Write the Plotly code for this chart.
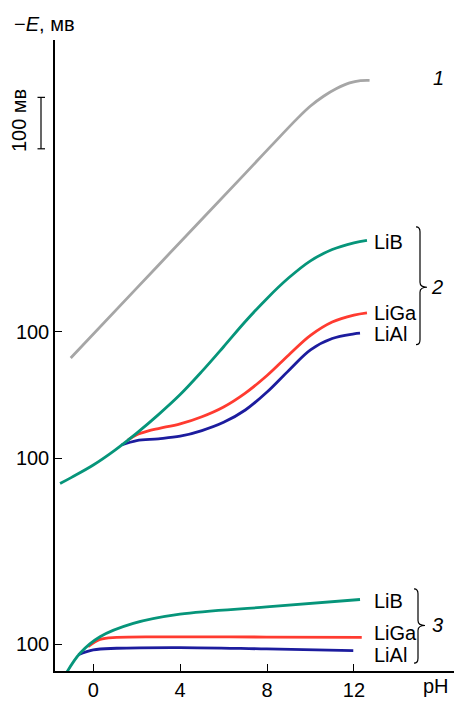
import plotly.graph_objects as go

# ---------------- data (pH, -E in mV on the chart's shared scale) ----------------
ph_c1 = [-1.04, 2.0, 5.0, 7.0, 8.2, 9.4, 10.0, 10.6, 11.2, 11.8, 12.3, 12.72]
e_c1 = [656, 792, 926, 1015, 1069, 1122, 1146, 1165, 1180, 1191, 1195.5, 1196]

ph_lib2 = [-1.53, -1.0, 0.0, 1.0, 2.0, 3.0, 4.0, 5.0, 6.0, 7.0, 8.0, 9.0, 10.0, 11.0, 12.0, 12.6]
e_lib2 = [412, 424, 448, 477, 510, 546, 585, 630, 678, 727, 772, 812, 845, 867, 880, 885]

ph_liga2 = [1.6, 2.0, 2.5, 3.0, 4.0, 5.0, 6.0, 7.0, 8.0, 9.0, 10.0, 11.0, 12.0, 12.6]
e_liga2 = [497, 507, 514, 519, 528, 542, 561, 588, 622, 662, 700, 726, 739.5, 744]

ph_lial2 = [1.3, 2.0, 3.0, 4.0, 5.0, 6.0, 7.0, 8.0, 9.0, 10.0, 11.0, 12.0, 12.28]
e_lial2 = [487, 495.6, 499, 504, 515, 531, 555, 590, 632, 672, 694, 703, 704.5]

ph_lib3 = [-1.22, -0.61, 0.31, 1.84, 3.99, 7.98, 12.28]
e_lib3 = [45, 82, 114, 140, 158, 172, 186.5]

ph_liga3 = [-0.24, 0.31, 1.08, 3.38, 7.98, 12.36]
e_liga3 = [95, 109, 113, 114, 113.5, 113]

ph_lial3 = [-0.69, 0.0, 1.08, 3.99, 7.98, 11.97]
e_lial3 = [79, 88.5, 91.7, 93.1, 90.4, 87.3]

x_ticks = [0, 4, 8, 12]
y_tick_vals = [100, 461, 707]
y_tick_text = ["100", "100", "100"]

# ---------------- style ----------------
W, H = 454, 701
ML, MR, MT, MB = 55, 0, 40, 23
X_RANGE = [-1.763, 16.607]
Y_RANGE = [47.5, 1274.4]
FONT = "Liberation Sans, Arial, sans-serif"
FS = 20
GRAY = "#a6a6a6"
GREEN = "#06957a"
RED = "#ff3b30"
BLUE = "#1c1c9e"
LW = 2.8


def px(xp):
    return (xp - ML) / (W - ML - MR)


def py(yp):
    return (H - MB - yp) / (H - MT - MB)


fig = go.Figure()


def add(xs, ys, color):
    fig.add_trace(go.Scatter(x=xs, y=ys, mode="lines",
                             line=dict(color=color, width=LW, shape="spline", smoothing=1.0),
                             hoverinfo="skip", showlegend=False))


add(ph_c1, e_c1, GRAY)
add(ph_liga2, e_liga2, RED)
add(ph_lial2, e_lial2, BLUE)
add(ph_lib2, e_lib2, GREEN)
add(ph_liga3, e_liga3, RED)
add(ph_lial3, e_lial3, BLUE)
add(ph_lib3, e_lib3, GREEN)

ann = []


def text(t, xp, yp, xanchor="left", italic=False, angle=0):
    ann.append(dict(text=(f"<i>{t}</i>" if italic else t), x=px(xp), y=py(yp),
                    xref="paper", yref="paper", xanchor=xanchor, yanchor="middle",
                    showarrow=False, textangle=angle,
                    font=dict(family=FONT, size=FS, color="black")))


text("−<i>E</i>, мв", 12, 24)
text("1", 438, 78, "center", italic=True)
text("LiB", 372, 244)
text("LiGa", 372, 316)
text("LiAl", 372, 337)
text("2", 437, 290, "center", italic=True)
text("LiB", 372, 607)
text("LiGa", 372, 640)
text("LiAl", 372, 662)
text("3", 437, 631, "center", italic=True)
text("pH", 421, 693)
text("100 мв", 19, 122, "center", angle=-90)

shapes = []


def brace(x, top, tip, bottom, d=7):
    p = (f"M {px(x-4)},{py(top)} Q {px(x)},{py(top)} {px(x)},{py(top+5)} "
         f"L {px(x)},{py(tip-5)} Q {px(x)},{py(tip)} {px(x+d)},{py(tip)} "
         f"Q {px(x)},{py(tip)} {px(x)},{py(tip+5)} "
         f"L {px(x)},{py(bottom-5)} Q {px(x)},{py(bottom)} {px(x-4)},{py(bottom)}")
    shapes.append(dict(type="path", path=p, xref="paper", yref="paper",
                       line=dict(color="black", width=1.2)))


brace(420, 229, 290, 348)
brace(418, 595, 632, 670)

# scale bar (100 mV)
for (x0, y0, x1, y1) in [(41, 98, 41, 150), (37.5, 98, 45, 98), (37.5, 150, 45, 150)]:
    shapes.append(dict(type="line", xref="paper", yref="paper",
                       x0=px(x0), y0=py(y0), x1=px(x1), y1=py(y1),
                       line=dict(color="black", width=1.2)))

fig.update_layout(
    width=W, height=H, autosize=False,
    margin=dict(l=ML, r=MR, t=MT, b=MB, pad=0),
    paper_bgcolor="white", plot_bgcolor="white",
    font=dict(family=FONT, size=FS, color="black"),
    annotations=ann, shapes=shapes,
    xaxis=dict(range=X_RANGE, showgrid=False, zeroline=False, showline=True,
               linecolor="black", linewidth=1.5, ticks="inside", ticklen=7,
               tickwidth=1.2, tickcolor="black", tickvals=x_ticks,
               tickfont=dict(family=FONT, size=FS)),
    yaxis=dict(range=Y_RANGE, showgrid=False, zeroline=False, showline=True,
               linecolor="black", linewidth=1.5, ticks="inside", ticklen=7,
               tickwidth=1.2, tickcolor="black", tickvals=y_tick_vals,
               ticktext=y_tick_text, tickfont=dict(family=FONT, size=FS)),
)

fig.write_html("out.html")
